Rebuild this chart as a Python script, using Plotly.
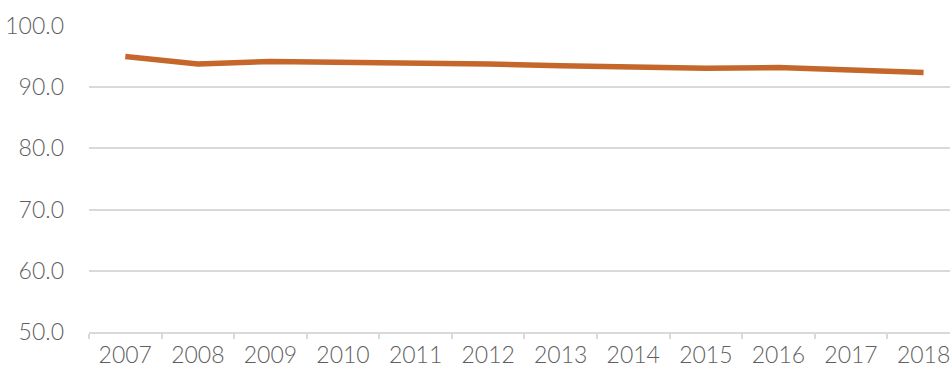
import plotly.graph_objects as go

years = ["2007", "2008", "2009", "2010", "2011", "2012", "2013", "2014", "2015", "2016", "2017", "2018"]
values = [95.0, 93.8, 94.2, 94.1, 93.9, 93.8, 93.5, 93.2, 93.1, 93.2, 92.8, 92.4]
y_ticks = [50, 60, 70, 80, 90, 100]
y_tick_text = ["50.0", "60.0", "70.0", "80.0", "90.0", "100.0"]

fig = go.Figure()
fig.add_trace(go.Scatter(
    x=years, y=values, mode="lines",
    line=dict(color="#C5672B", width=5.5),
    hoverinfo="skip",
))

font = dict(family="Lato", size=23, color="#5f5f5f", weight=300)

fig.update_layout(
    width=950, height=367,
    margin=dict(l=89, r=0, t=26, b=35),
    paper_bgcolor="white", plot_bgcolor="white",
    showlegend=False,
    xaxis=dict(
        type="category",
        range=[-0.5, 11.364],
        tickson="boundaries",
        ticks="outside", ticklen=5, tickcolor="#d9d9d9", tickwidth=1.5,
        showline=True, linecolor="#d9d9d9", linewidth=1.5,
        showgrid=False,
        tickfont=font,
        ticklabelstandoff=2,
    ),
    yaxis=dict(
        range=[50, 100],
        tickvals=y_ticks, ticktext=y_tick_text,
        showgrid=True, gridcolor="#d9d9d9", gridwidth=1.5,
        zeroline=False, showline=False, ticks="",
        tickfont=font,
        ticklabelstandoff=24,
    ),
)

fig.write_html("out.html")
